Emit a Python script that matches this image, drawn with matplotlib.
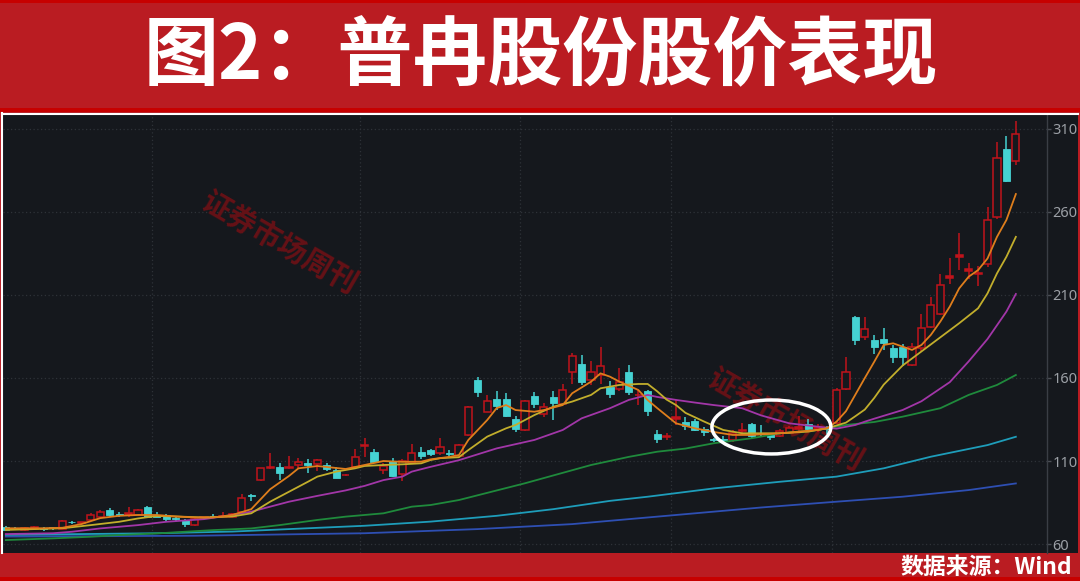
import matplotlib
matplotlib.use("Agg")
import matplotlib.pyplot as plt
from matplotlib.patches import Rectangle, Ellipse
from matplotlib.lines import Line2D
import numpy as np

plt.rcParams['font.family'] = ['Noto Sans CJK SC', 'DejaVu Sans']

title = "图2：普冉股份股价表现"
source = "数据来源：Wind"
watermark = "证券市场周刊"

# ---- daily candles ----
opens = [70.5, 69.5, 68.5, 69, 69.5, 70, 69, 73.5, 72.8, 74.5,
         76, 80.5, 78, 77.5, 77.5, 82.5, 77.5, 77.5, 75.5, 74.4,
         71.5, 75.5, 76.8, 76.5, 76.5, 79.3, 89.8, 98.5, 105.8, 106.4,
         105.8, 107.6, 109, 108, 107.5, 104.6, 101.3, 106.4, 118.8, 115.5,
         104.8, 110, 102, 108.8, 115.5, 116.5, 114.8, 115, 113, 125.7,
         158.5, 139.7, 147.2, 147.2, 135.3, 128.7, 149.2, 138.3, 148.4, 144.3,
         163.4, 168.4, 158.8, 161.8, 154.8, 153.2, 163.8, 149.5, 152.4, 126,
         124.5, 135.2, 133.7, 134.3, 129.1, 123, 123.5, 122.7, 127.8, 132.3,
         127, 126, 125, 127.1, 129.2, 132.3, 129, 129.8, 132.7, 153.2,
         196.9, 184.6, 182.9, 183.3, 177.9, 178.9, 167.8, 177.9, 190.9, 198.6,
         220.3, 233.1, 224.5, 222.5, 228.7, 257.2, 298, 290.9]
highs = [71, 70, 70.5, 71, 70.5, 70.5, 74.5, 74, 73.5, 78.5,
         80.5, 82, 79, 82.5, 81, 83, 79, 78, 76.5, 75,
         75.5, 76.5, 78, 79, 78.5, 90, 90, 106, 115, 109,
         113, 112, 111, 111, 109, 106.5, 102, 117, 124, 117,
         109, 112, 111, 120, 118.5, 117.5, 124, 116.5, 120, 143,
         160.5, 150, 152.4, 150.8, 137, 146.5, 151.4, 144.7, 152.4, 156.4,
         174.9, 173.9, 170.4, 178.5, 157.9, 165.8, 167.6, 152.5, 153, 128.5,
         127, 146.8, 136.7, 135.5, 130.5, 124, 125, 128.5, 133, 133,
         131.5, 127, 129, 131, 137, 135.5, 132.5, 131, 154, 172.8,
         197.5, 197, 185.9, 190, 180, 180.2, 181, 198.4, 209, 222.5,
         232, 247.2, 229.4, 227.4, 262.8, 302.4, 306, 314.8]
lows = [68, 68.5, 68, 68.5, 68, 68.5, 68.8, 72, 72.5, 74,
        75.5, 76, 76.5, 76.5, 77, 76, 76, 74, 74, 70.5,
        71, 75, 75.5, 76, 76, 79, 86, 98, 105, 98.5,
        105, 106, 103, 104, 104, 99.5, 101, 106, 112.5, 109,
        102, 100.5, 98, 108, 111, 113, 113.5, 112.5, 112.5, 125,
        148.5, 139.5, 140.7, 136.5, 127.2, 128, 141.9, 136.7, 134.7, 143.5,
        156.6, 156, 155.8, 156.6, 147.9, 152, 149.8, 143.7, 137.1, 121,
        122.5, 131.5, 128.9, 128, 125, 121.5, 121.5, 121.5, 125.5, 124,
        124.5, 122.5, 124.5, 126, 128, 128, 127.5, 126, 132, 152.5,
        179.7, 183, 174.5, 176.6, 169.2, 167.2, 167, 176, 190, 198,
        216.6, 225.1, 219.8, 215.5, 227, 256, 278, 288.3]
closes = [68.5, 69, 69.5, 70.5, 69, 69.5, 74, 73, 73.2, 77.5,
          79.5, 77.5, 77.5, 78.5, 80.5, 76.5, 76.5, 75.2, 75, 72,
          75, 76.2, 76.2, 77, 78, 87.7, 89, 105.8, 106.2, 102.8,
          106.2, 109.6, 107.4, 110.5, 105, 99.8, 101.8, 112.4, 119.5, 109.5,
          107.2, 101.2, 110, 114.8, 113, 114, 118.5, 114.5, 119.5, 142.7,
          151.8, 146, 143.2, 137.1, 129.1, 146, 144.3, 142.7, 145.2, 152.8,
          173.3, 157.3, 163.4, 167.2, 150.4, 157.3, 151.8, 150, 140.3, 123,
          125, 136.5, 131.1, 128.7, 127.7, 122.6, 122.5, 127.1, 128.5, 125.1,
          126.3, 124.3, 128, 129.7, 130.7, 129.1, 130.2, 129.2, 152.8, 163.8,
          182.9, 189.3, 178.9, 180.9, 172.8, 172.8, 178.9, 190, 203.8, 216.2,
          221.4, 234.1, 225.5, 223, 255.2, 292.3, 278.9, 307]

# ---- moving average lines (at sample days) ----
ma5_days = [0, 4, 6, 8, 10, 12, 14, 16, 18, 20, 22, 24, 26, 28, 30, 31, 33, 35, 36, 38,
            40, 42, 44, 45, 47, 48, 49, 51, 52, 53, 54, 56, 57, 59, 60, 62, 63, 64, 65, 67,
            68, 69, 71, 73, 75, 77, 79, 82, 86, 87, 88, 89, 90, 91, 92, 93, 94, 95, 96, 97,
            98, 99, 100, 101, 102, 103, 104, 105, 106, 107]
ma5_vals = [69.5, 69.5, 69.8, 72, 75.6, 77, 77.5, 77.5, 76.6, 76, 76, 77.5, 81, 93, 101, 105.6, 107, 105.8, 105.2, 107.6,
            110, 109.5, 109.6, 111, 112.5, 113.6, 122.7, 134.7, 141.9, 143.7, 140.7, 139.7, 140.7, 143.7, 150.8, 157.8, 162.8, 160.8, 157.8, 152.8,
            146.7, 141.9, 132.7, 129.7, 127.5, 125.7, 125.7, 126.7, 128.7, 129.7, 133.7, 140, 150, 160, 169.8, 179.9, 180.9, 178.9, 176.9, 179.9,
            186, 194, 203, 214, 221, 225, 232, 245, 255.2, 270.8]

ma10_days = [0, 6, 9, 12, 14, 16, 18, 21, 24, 26, 28, 30, 32, 33, 35, 37, 38, 40, 42, 44,
             45, 46, 48, 49, 51, 53, 54, 56, 58, 60, 62, 63, 65, 67, 68, 69, 70, 71, 72, 74,
             76, 78, 82, 85, 87, 89, 90, 91, 92, 93, 95, 97, 99, 101, 103, 104, 105, 106, 107]
ma10_vals = [68.5, 69.5, 71.4, 73.4, 75.4, 76.9, 76.6, 76, 76.6, 78.5, 85.5, 91.5, 97.5, 100.6, 103.6, 105.6, 107, 107.6, 108, 108.6,
             110.6, 111.7, 112.3, 116.6, 124.7, 129.7, 131.7, 137.7, 142.7, 145.8, 149.8, 153.8, 155.8, 156.4, 156.4, 152, 147, 143.7, 139, 133.7,
             128.7, 126.7, 126.7, 127.7, 129.7, 133.1, 137, 141, 148, 156, 167.5, 176, 184.5, 193, 202, 211, 223, 233, 245]

ma20_days = [0, 5, 7, 10, 14, 17, 21, 24, 26, 28, 30, 33, 36, 38, 40, 42, 43, 45, 48, 52,
             56, 59, 61, 64, 66, 68, 69, 71, 73, 75, 78, 80, 83, 86, 88, 90, 91, 92, 95, 97,
             100, 102, 104, 106, 107]
ma20_vals = [66, 66.5, 67.4, 69.4, 71.4, 73.4, 75, 77.5, 79.5, 82.5, 85.5, 89, 92.3, 95, 98.5, 100.6, 103.6, 106.5, 110.5, 117.6,
             122.7, 128.7, 135.7, 141.8, 146.8, 149.8, 148.6, 146.8, 145.2, 143.7, 141.8, 137.5, 132.7, 130.7, 129.5, 131.7, 133.7, 135.5, 140.7, 146,
             157.5, 170, 183.5, 200, 210.6]

ma60_days = [0, 5, 9, 12, 16, 19, 22, 26, 29, 33, 36, 40, 43, 45, 48, 55, 62, 66, 69, 72,
             75, 79, 82, 86, 89, 92, 95, 99, 102, 105, 107]
ma60_vals = [62.4, 63.4, 64.4, 65.4, 66.4, 67.4, 68.4, 69.4, 71.4, 74.5, 76.5, 78.5, 82.5, 83.5, 86.5, 96.6, 107.6, 112.5, 115.6, 117.5,
             120.7, 123.7, 126.7, 128.7, 131.7, 133.5, 136.7, 141.8, 149.8, 155.8, 161.8]

ma120_days = [0, 8, 16, 24, 30, 38, 45, 52, 58, 64, 68, 75, 82, 88, 93, 98, 104, 107]
ma120_vals = [65.5, 66, 66.5, 67.5, 69, 71, 73.5, 77, 81, 86, 88.5, 93.5, 97.5, 100.6, 105.6, 112.6, 119.6, 124.6]

ma250_days = [0, 20, 38, 50, 60, 70, 80, 88, 95, 102, 107]
ma250_vals = [64.5, 65, 66.5, 69, 72, 77, 82, 85.5, 88.5, 92.5, 96.5]

yticks = [60, 110, 160, 210, 260, 310]
month_breaks = [15.5, 37.5, 54.5, 70.5, 87.5]

# ---- colours ----
RED_BG = '#BA1C22'
RED_EDGE = '#C70000'
DARK = '#15181D'
UP = '#C0131B'
DOWN = '#45D2D2'
GRID = '#2E3238'

W, H = 1080, 581
fig = plt.figure(figsize=(W / 100, H / 100), dpi=100)
fig.patch.set_facecolor(RED_BG)

def fx(px):
    return px / W

def fy(py):
    return 1 - py / H

# frame pieces (behind the axes)
fig.add_artist(Rectangle((0, fy(3)), 1, 3 / H, transform=fig.transFigure, fc=RED_EDGE, ec='none', zorder=-5))
fig.add_artist(Rectangle((0, fy(112)), 1, 4 / H, transform=fig.transFigure, fc=RED_EDGE, ec='none', zorder=-5))
fig.add_artist(Rectangle((0, 0), 1, 4 / H, transform=fig.transFigure, fc=RED_EDGE, ec='none', zorder=-5))
fig.add_artist(Rectangle((fx(3), fy(553)), fx(1078 - 3), (553 - 113) / H,
                         transform=fig.transFigure, fc=DARK, ec='none', zorder=-4))
fig.add_artist(Line2D([fx(2), fx(1078)], [fy(113.5), fy(113.5)], transform=fig.transFigure,
                      color='white', lw=1.5, zorder=5))
fig.add_artist(Line2D([fx(2.3), fx(2.3)], [fy(113), fy(553)], transform=fig.transFigure,
                      color='white', lw=1.5, zorder=5))

# title and source
fig.text(fx(541), fy(57), title, color='white', fontsize=54, fontweight='heavy',
         ha='center', va='center')
fig.text(fx(1072), fy(567), source, color='white', fontsize=16.5, fontweight='bold',
         ha='right', va='center')

ax = fig.add_axes([fx(3), fy(553), fx(1047 - 3), (553 - 115) / H])
ax.set_facecolor(DARK)
ax.set_xlim(-0.3, 110.3)
ax.set_ylim(54.6, 318.4)

for s in ['top', 'left', 'bottom']:
    ax.spines[s].set_visible(False)
ax.spines['right'].set_color('#3A3E45')
ax.spines['right'].set_linewidth(1)
ax.yaxis.tick_right()
ax.set_yticks(yticks)
ax.set_yticklabels([str(t) for t in yticks], color='#9CA0A6', fontsize=10.5,
                   fontfamily=['Noto Sans', 'DejaVu Sans'])
ax.tick_params(axis='y', length=3, width=1, color='#4A4E55', pad=1)
ax.set_xticks([])
for t in yticks:
    ax.axhline(t, color=GRID, lw=0.9, ls=(0, (1, 2)), zorder=0.5)
for b in month_breaks:
    ax.axvline(b, color=GRID, lw=0.9, ls=(0, (1, 2)), zorder=0.5)

# watermarks
for (px, py) in [(280, 243), (786, 420)]:
    ax.text(fx(px), fy(py), watermark, transform=fig.transFigure, rotation=-30,
            fontsize=21, fontweight='bold', color='#651116', ha='center', va='center',
            zorder=1, rotation_mode='anchor')

# candles
bw = 0.76
for i in range(len(opens)):
    o, h, l, c = opens[i], highs[i], lows[i], closes[i]
    lo_b, hi_b = min(o, c), max(o, c)
    hgt = max(hi_b - lo_b, 0.4)
    if c >= o:
        ax.vlines(i, hi_b, h, color=UP, lw=1.1, zorder=2)
        ax.vlines(i, l, lo_b, color=UP, lw=1.1, zorder=2)
        ax.add_patch(Rectangle((i - bw / 2, lo_b), bw, hgt, fc=DARK if hgt > 1.5 else UP,
                               ec=UP, lw=1.1, zorder=2.1))
    else:
        ax.vlines(i, l, h, color=DOWN, lw=1.1, zorder=2)
        ax.add_patch(Rectangle((i - bw / 2, lo_b), bw, hgt, fc=DOWN, ec=DOWN, lw=0.6, zorder=2.1))

# MA lines
lines = [
    (ma250_days, ma250_vals, '#2E4FB3'),
    (ma120_days, ma120_vals, '#1E9DBA'),
    (ma60_days, ma60_vals, '#1F8A3C'),
    (ma20_days, ma20_vals, '#A236A8'),
    (ma10_days, ma10_vals, '#C2AE2C'),
    (ma5_days, ma5_vals, '#DF7E1C'),
]
for k, (d, v, col) in enumerate(lines):
    ax.plot(d, v, color=col, lw=1.3, zorder=3 + k * 0.1, solid_joinstyle='round')

# highlight ellipse around the consolidation
ax.add_patch(Ellipse((81.1, 130.5), 12.6, 32.5, fill=False, ec='white', lw=2.5, zorder=4))

fig.savefig('out.png', dpi=100, facecolor=fig.get_facecolor())
